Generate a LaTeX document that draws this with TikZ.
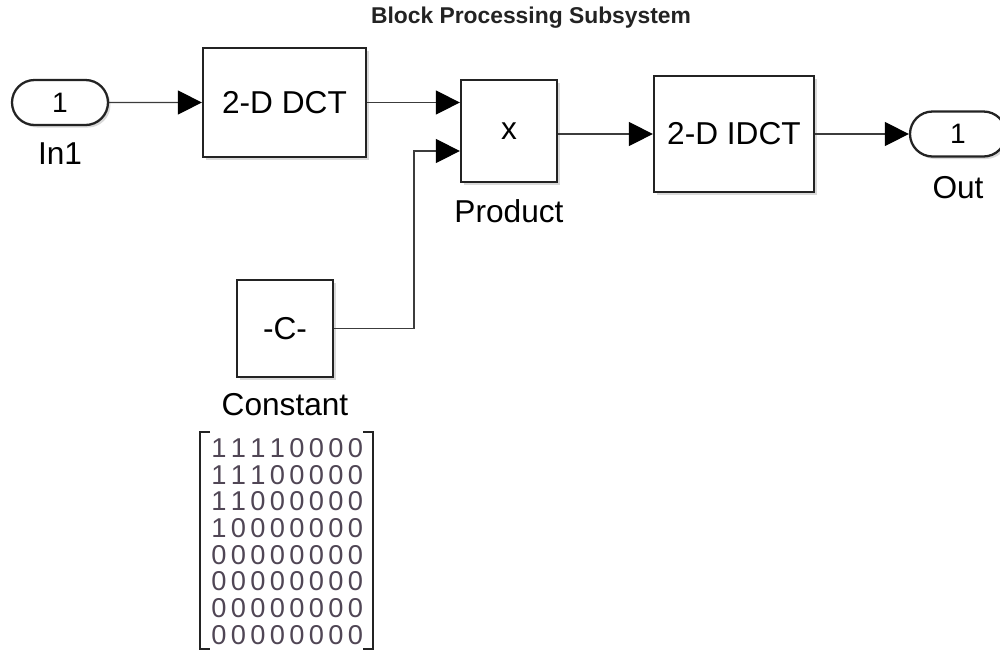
\documentclass[tikz,border=0pt]{standalone}
\usepackage{fontspec}
\setmainfont{Liberation Sans}
\usetikzlibrary{positioning,arrows.meta,shapes.misc,shadows}
\definecolor{blockline}{RGB}{35, 35, 35}
\definecolor{wiregrey}{RGB}{60, 60, 60}
\definecolor{digitgrey}{RGB}{80, 70, 85}

\begin{document}
\begin{tikzpicture}[
    font=\fontsize{18}{21}\selectfont,
    >={Triangle[length=0.48cm, width=0.48cm, color=black]},
    block/.style={
        draw=blockline,
        line width=1.3pt,
        fill=white,
        inner sep=0pt,
        align=center,
        drop shadow={shadow xshift=0.05cm, shadow yshift=-0.05cm, opacity=0.3}
    },
    port/.style={
        block,
        rounded rectangle,
        minimum width=1.92cm,
        minimum height=0.9cm,
        font=\fontsize{16}{19}\selectfont
    },
    blocklabel/.style={
        inner sep=0pt
    },
    wire/.style={
        draw=wiregrey,
        line width=0.8pt
    },
    signal/.style={
        wire,
        ->
    },
    digit/.style={
        inner sep=0pt,
        text=digitgrey,
        font=\fontsize{15.5}{17}\selectfont
    },
    bracket/.style={
        draw=blockline,
        line width=1.5pt
    }
]
    \useasboundingbox (0,0) rectangle (20,-13.04);

    % 1. Title
    \node[font=\bfseries\fontsize{13}{15}\selectfont, text=blockline] (title) at (10.62,-0.36) {Block Processing Subsystem};

    % 2. Signal chain
    \node[port] (in1) at (1.2,-2.05) {1};
    \node[blocklabel, below=0.32cm of in1] (in1lbl) {In1};

    \node[block, minimum width=3.26cm, minimum height=2.18cm] (dct) at (5.69,-2.05) {2-D DCT};

    \node[block, minimum width=1.92cm, minimum height=2.04cm] (prod) at (10.18,-2.62) {x};
    \node[blocklabel, below=0.32cm of prod] (prodlbl) {Product};

    \node[block, minimum width=3.2cm, minimum height=2.32cm] (idct) at (14.68,-2.68) {2-D IDCT};

    \node[port] (out1) at (19.16,-2.68) {1};
    \node[blocklabel, below=0.36cm of out1] (outlbl) {Out};

    % 3. Constant mask
    \node[block, minimum width=1.92cm, minimum height=1.94cm] (const) at (5.7,-6.57) {-C-};
    \node[blocklabel, below=0.3cm of const] (constlbl) {Constant};

    % Mask values
    \foreach \row [count=\r] in {{1,1,1,1,0,0,0,0},{1,1,1,0,0,0,0,0},{1,1,0,0,0,0,0,0},{1,0,0,0,0,0,0,0},{0,0,0,0,0,0,0,0},{0,0,0,0,0,0,0,0},{0,0,0,0,0,0,0,0},{0,0,0,0,0,0,0,0}}
        \foreach \d [count=\c] in \row
            \node[digit] (m-\r-\c) at ({4.38+0.39*(\c-1)}, {-8.96-0.534*(\r-1)}) {\d};

    \draw[bracket] (4.2,-8.64) -- (4.0,-8.64) -- (4.0,-12.98) -- (4.2,-12.98);
    \draw[bracket] (7.26,-8.64) -- (7.46,-8.64) -- (7.46,-12.98) -- (7.26,-12.98);

    % Connections
    \coordinate (prodin2) at ([yshift=-0.4cm]prod.west);
    \draw[signal] (in1) -- (dct);
    \draw[signal] (dct.east) -- (dct.east -| prod.west);
    \draw[signal] (const.east) -- ++(1.6,0) |- (prodin2);
    \draw[signal] (prod.east |- idct.west) -- (idct.west);
    \draw[signal] (idct) -- (out1);

\end{tikzpicture}
\end{document}
